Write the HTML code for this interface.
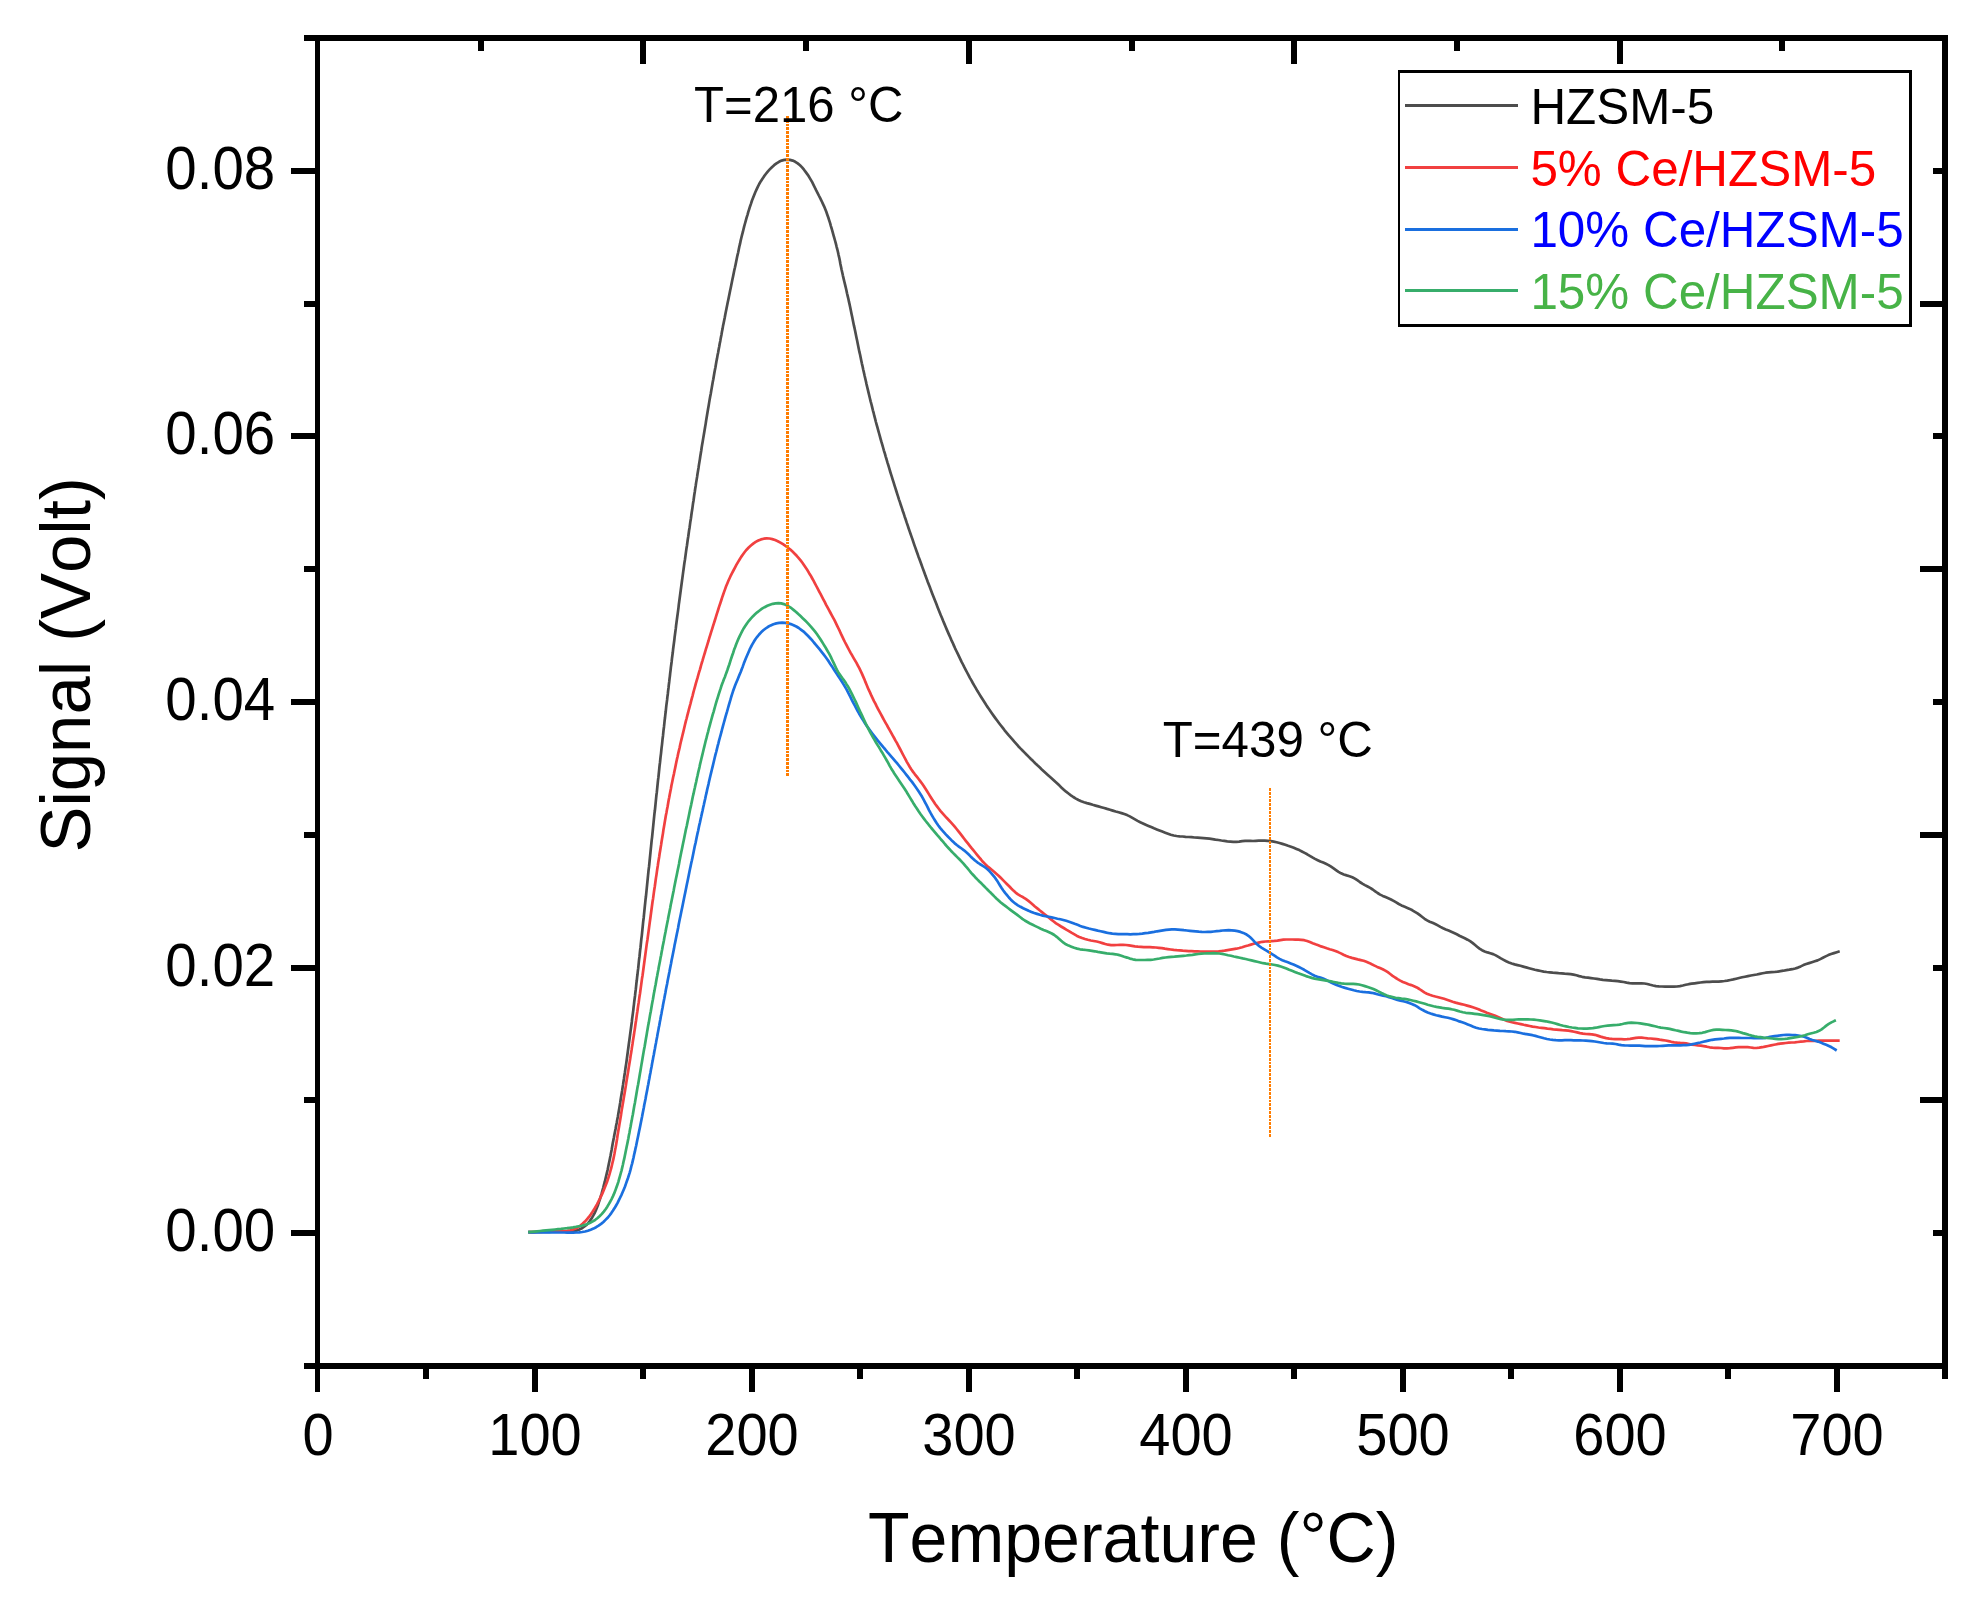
<!DOCTYPE html>
<html lang="en"><head><meta charset="utf-8"><title>NH3-TPD profiles</title>
<style>
html,body{margin:0;padding:0;background:#fff;}
body{width:1987px;height:1614px;overflow:hidden;font-family:"Liberation Sans",Arial,sans-serif;}
svg{display:block;}
</style></head><body>
<svg width="1987" height="1614" viewBox="0 0 1987 1614">
<rect width="1987" height="1614" fill="#fff"/>
<polyline points="528.2,1232.2 531.2,1232.2 534.2,1232.1 537.2,1232.0 540.2,1232.0 543.2,1231.9 546.2,1231.8 549.2,1231.8 552.2,1231.7 555.2,1231.7 558.2,1231.7 561.3,1231.7 564.3,1231.7 567.3,1231.6 570.3,1231.5 573.2,1231.2 576.1,1230.6 578.8,1229.8 581.4,1228.6 583.8,1227.0 586.1,1225.2 588.1,1223.1 590.0,1220.8 591.7,1218.3 593.2,1215.7 594.6,1213.1 595.9,1210.3 597.0,1207.6 598.1,1204.7 599.0,1201.9 600.0,1199.0 600.8,1196.2 601.7,1193.3 602.5,1190.4 603.3,1187.5 604.0,1184.6 604.8,1181.7 605.5,1178.8 606.2,1175.8 606.9,1172.9 607.6,1170.0 608.2,1167.1 608.8,1164.1 609.4,1161.2 610.0,1158.3 610.6,1155.3 611.1,1152.4 611.7,1149.4 612.2,1146.5 612.7,1143.5 613.3,1140.6 613.9,1137.6 614.4,1134.7 615.0,1131.7 615.6,1128.8 616.1,1125.8 616.7,1122.9 617.2,1119.9 617.8,1117.0 618.3,1114.0 618.8,1111.1 619.3,1108.1 619.8,1105.1 620.3,1102.2 620.7,1099.2 621.2,1096.3 621.7,1093.3 622.2,1090.3 622.6,1087.4 623.1,1084.4 623.5,1081.4 624.0,1078.5 624.4,1075.5 624.9,1072.5 625.3,1069.6 625.7,1066.6 626.2,1063.6 626.6,1060.7 627.0,1057.7 627.4,1054.7 627.8,1051.7 628.2,1048.8 628.6,1045.8 629.0,1042.8 629.4,1039.9 629.8,1036.9 630.2,1033.9 630.6,1030.9 631.0,1028.0 631.4,1025.0 631.8,1022.0 632.1,1019.0 632.5,1016.1 632.9,1013.1 633.3,1010.1 633.6,1007.1 634.0,1004.1 634.3,1001.2 634.7,998.2 635.1,995.2 635.4,992.2 635.8,989.2 636.1,986.3 636.4,983.3 636.8,980.3 637.1,977.3 637.5,974.3 637.8,971.4 638.2,968.4 638.5,965.4 638.8,962.4 639.1,959.4 639.5,956.5 639.8,953.5 640.1,950.5 640.5,947.5 640.8,944.5 641.1,941.5 641.4,938.6 641.8,935.6 642.1,932.6 642.4,929.6 642.7,926.6 643.0,923.6 643.3,920.7 643.7,917.7 644.0,914.7 644.3,911.7 644.6,908.7 644.9,905.7 645.2,902.8 645.5,899.8 645.9,896.8 646.2,893.8 646.5,890.8 646.8,887.8 647.1,884.9 647.4,881.9 647.7,878.9 648.0,875.9 648.3,872.9 648.6,869.9 649.0,866.9 649.3,864.0 649.6,861.0 649.9,858.0 650.2,855.0 650.5,852.0 650.8,849.0 651.1,846.1 651.4,843.1 651.7,840.1 652.1,837.1 652.4,834.1 652.7,831.1 653.0,828.2 653.3,825.2 653.6,822.2 653.9,819.2 654.2,816.2 654.5,813.2 654.9,810.3 655.2,807.3 655.5,804.3 655.8,801.3 656.1,798.3 656.4,795.3 656.8,792.4 657.1,789.4 657.4,786.4 657.7,783.4 658.0,780.4 658.4,777.4 658.7,774.5 659.0,771.5 659.3,768.5 659.6,765.5 660.0,762.5 660.3,759.5 660.6,756.6 661.0,753.6 661.3,750.6 661.6,747.6 662.0,744.6 662.3,741.7 662.6,738.7 663.0,735.7 663.3,732.7 663.6,729.7 664.0,726.7 664.3,723.8 664.6,720.8 665.0,717.8 665.3,714.8 665.7,711.8 666.0,708.9 666.3,705.9 666.7,702.9 667.1,699.9 667.4,696.9 667.8,694.0 668.1,691.0 668.5,688.0 668.8,685.0 669.2,682.0 669.5,679.1 669.9,676.1 670.2,673.1 670.6,670.1 670.9,667.1 671.3,664.2 671.7,661.2 672.0,658.2 672.4,655.2 672.8,652.3 673.1,649.3 673.5,646.3 673.9,643.3 674.3,640.3 674.6,637.4 675.0,634.4 675.4,631.4 675.8,628.4 676.1,625.5 676.5,622.5 676.9,619.5 677.3,616.5 677.7,613.6 678.1,610.6 678.5,607.6 678.8,604.6 679.2,601.7 679.6,598.7 680.0,595.7 680.4,592.7 680.8,589.8 681.2,586.8 681.6,583.8 682.0,580.8 682.4,577.9 682.8,574.9 683.2,571.9 683.6,569.0 684.0,566.0 684.4,563.0 684.9,560.0 685.3,557.1 685.7,554.1 686.1,551.1 686.5,548.2 687.0,545.2 687.4,542.2 687.8,539.2 688.3,536.3 688.7,533.3 689.1,530.3 689.6,527.4 690.0,524.4 690.4,521.4 690.9,518.5 691.3,515.5 691.7,512.5 692.2,509.6 692.6,506.6 693.0,503.6 693.5,500.7 693.9,497.7 694.3,494.7 694.8,491.8 695.2,488.8 695.7,485.8 696.1,482.9 696.6,479.9 697.1,476.9 697.5,474.0 698.0,471.0 698.5,468.0 698.9,465.1 699.4,462.1 699.9,459.1 700.3,456.2 700.8,453.2 701.3,450.3 701.7,447.3 702.2,444.3 702.7,441.4 703.2,438.4 703.7,435.5 704.2,432.5 704.7,429.5 705.2,426.6 705.7,423.6 706.1,420.7 706.6,417.7 707.1,414.7 707.6,411.8 708.1,408.8 708.6,405.9 709.1,402.9 709.6,399.9 710.1,397.0 710.7,394.0 711.2,391.1 711.7,388.1 712.2,385.2 712.7,382.2 713.3,379.3 713.8,376.3 714.3,373.3 714.8,370.4 715.4,367.4 715.9,364.5 716.4,361.5 717.0,358.6 717.5,355.6 718.1,352.7 718.6,349.7 719.2,346.8 719.7,343.8 720.3,340.9 720.8,337.9 721.4,335.0 721.9,332.0 722.5,329.1 723.0,326.1 723.6,323.2 724.2,320.3 724.8,317.3 725.3,314.4 725.9,311.4 726.5,308.5 727.1,305.5 727.7,302.6 728.3,299.7 728.9,296.7 729.5,293.8 730.1,290.8 730.7,287.9 731.3,285.0 731.9,282.0 732.5,279.1 733.1,276.2 733.7,273.2 734.3,270.3 735.0,267.3 735.6,264.4 736.2,261.5 736.8,258.5 737.4,255.6 738.1,252.7 738.7,249.7 739.3,246.8 740.0,243.9 740.6,240.9 741.3,238.0 742.0,235.1 742.8,232.2 743.5,229.3 744.2,226.4 745.0,223.5 745.8,220.6 746.6,217.7 747.5,214.8 748.3,211.9 749.2,209.1 750.1,206.2 751.1,203.4 752.0,200.5 753.1,197.7 754.2,194.9 755.3,192.2 756.6,189.4 757.9,186.7 759.2,184.0 760.7,181.4 762.3,178.9 764.0,176.4 765.8,174.0 767.7,171.6 769.7,169.4 771.9,167.2 774.1,165.2 776.5,163.4 779.0,161.8 781.6,160.6 784.4,159.9 787.1,159.6 789.9,159.9 792.7,160.6 795.3,161.8 797.7,163.4 800.0,165.3 802.1,167.4 804.0,169.7 805.8,172.1 807.6,174.6 809.2,177.1 810.7,179.6 812.2,182.2 813.5,184.8 814.8,187.5 816.1,190.2 817.5,192.8 818.8,195.5 820.2,198.2 821.5,200.8 822.8,203.6 824.1,206.3 825.2,209.1 826.3,211.8 827.3,214.7 828.3,217.5 829.2,220.4 830.1,223.2 830.9,226.1 831.8,229.0 832.6,231.9 833.4,234.8 834.2,237.6 835.0,240.5 835.8,243.4 836.5,246.3 837.3,249.3 838.0,252.2 838.6,255.1 839.3,258.0 839.9,261.0 840.4,263.9 841.0,266.8 841.6,269.8 842.3,272.7 842.9,275.6 843.6,278.6 844.3,281.5 845.0,284.4 845.7,287.3 846.4,290.2 847.0,293.2 847.7,296.1 848.4,299.0 849.0,301.9 849.7,304.9 850.3,307.8 850.9,310.7 851.5,313.7 852.1,316.6 852.7,319.6 853.3,322.5 853.9,325.4 854.6,328.4 855.2,331.3 855.8,334.3 856.4,337.2 857.0,340.1 857.6,343.1 858.2,346.0 858.8,348.9 859.4,351.9 860.1,354.8 860.7,357.7 861.3,360.7 861.9,363.6 862.6,366.5 863.2,369.5 863.9,372.4 864.5,375.3 865.2,378.3 865.9,381.2 866.5,384.1 867.2,387.0 867.9,389.9 868.6,392.9 869.3,395.8 870.0,398.7 870.7,401.6 871.5,404.5 872.2,407.4 872.9,410.3 873.7,413.2 874.4,416.2 875.2,419.1 875.9,422.0 876.7,424.9 877.5,427.7 878.3,430.6 879.1,433.5 879.9,436.4 880.7,439.3 881.5,442.2 882.4,445.1 883.2,448.0 884.0,450.8 884.9,453.7 885.7,456.6 886.6,459.5 887.4,462.3 888.3,465.2 889.2,468.1 890.0,471.0 890.9,473.8 891.8,476.7 892.7,479.6 893.6,482.4 894.5,485.3 895.4,488.2 896.3,491.0 897.2,493.9 898.1,496.7 899.0,499.6 900.0,502.4 900.9,505.3 901.9,508.1 902.8,511.0 903.8,513.8 904.7,516.7 905.7,519.5 906.6,522.4 907.6,525.2 908.5,528.0 909.5,530.9 910.5,533.7 911.5,536.6 912.5,539.4 913.4,542.2 914.4,545.1 915.4,547.9 916.4,550.7 917.4,553.5 918.4,556.4 919.5,559.2 920.5,562.0 921.5,564.8 922.5,567.6 923.6,570.5 924.6,573.3 925.6,576.1 926.7,578.9 927.7,581.7 928.8,584.5 929.9,587.3 930.9,590.1 932.0,592.9 933.1,595.7 934.2,598.5 935.3,601.3 936.4,604.1 937.5,606.9 938.6,609.7 939.7,612.5 940.8,615.3 942.0,618.0 943.1,620.8 944.3,623.6 945.4,626.3 946.6,629.1 947.8,631.9 949.0,634.6 950.2,637.3 951.4,640.1 952.7,642.8 953.9,645.6 955.1,648.3 956.4,651.0 957.7,653.7 959.0,656.4 960.3,659.1 961.6,661.8 963.0,664.5 964.3,667.2 965.7,669.8 967.1,672.5 968.5,675.1 969.9,677.8 971.4,680.4 972.8,683.0 974.3,685.6 975.8,688.2 977.3,690.8 978.9,693.4 980.5,695.9 982.1,698.5 983.7,701.0 985.3,703.5 986.9,706.1 988.6,708.5 990.3,711.0 992.0,713.5 993.7,715.9 995.5,718.4 997.3,720.8 999.1,723.2 1000.9,725.5 1002.8,727.9 1004.6,730.3 1006.5,732.6 1008.4,734.9 1010.4,737.2 1012.4,739.4 1014.3,741.7 1016.3,743.9 1018.3,746.2 1020.4,748.4 1022.5,750.5 1024.6,752.6 1026.7,754.8 1028.8,756.9 1030.9,759.0 1033.1,761.1 1035.2,763.2 1037.4,765.3 1039.6,767.3 1041.8,769.4 1044.0,771.4 1046.2,773.4 1048.4,775.4 1050.7,777.4 1052.9,779.4 1055.1,781.5 1057.3,783.5 1059.5,785.6 1061.6,787.7 1063.8,789.7 1066.1,791.7 1068.5,793.5 1070.9,795.3 1073.3,797.0 1075.9,798.6 1078.5,800.0 1081.2,801.2 1084.0,802.2 1086.9,803.1 1089.8,803.9 1092.7,804.8 1095.5,805.6 1098.4,806.4 1101.3,807.2 1104.2,808.0 1107.1,808.9 1110.0,809.7 1112.8,810.6 1115.7,811.5 1118.6,812.3 1121.5,813.1 1124.3,814.0 1127.1,815.1 1129.8,816.4 1132.4,817.9 1135.0,819.4 1137.6,820.9 1140.3,822.3 1143.0,823.5 1145.7,824.7 1148.5,825.9 1151.2,827.1 1154.0,828.3 1156.8,829.4 1159.5,830.5 1162.3,831.6 1165.2,832.7 1168.0,833.7 1170.8,834.7 1173.7,835.5 1176.6,836.0 1179.6,836.3 1182.6,836.5 1185.6,836.8 1188.6,837.0 1191.6,837.2 1194.5,837.5 1197.5,837.7 1200.5,837.9 1203.5,838.1 1206.5,838.4 1209.5,838.7 1212.5,839.1 1215.4,839.6 1218.4,840.0 1221.4,840.5 1224.3,840.9 1227.3,841.3 1230.3,841.6 1233.3,841.9 1236.3,841.9 1239.2,841.6 1242.2,841.1 1245.1,840.8 1247.8,840.8 1250.4,840.9 1253.0,841.0 1255.8,840.8 1258.8,840.6 1261.8,840.5 1264.8,840.7 1267.8,840.9 1270.8,841.1 1273.7,841.6 1276.6,842.2 1279.5,843.0 1282.4,843.9 1285.3,844.8 1288.1,845.8 1291.0,846.7 1293.8,847.7 1296.5,848.9 1299.3,850.1 1301.9,851.5 1304.6,852.9 1307.2,854.3 1309.8,855.8 1312.4,857.4 1315.0,858.9 1317.7,860.2 1320.4,861.5 1323.2,862.6 1325.9,863.8 1328.6,865.1 1331.1,866.7 1333.6,868.4 1336.0,870.1 1338.5,871.8 1341.1,873.3 1343.8,874.5 1346.7,875.4 1349.5,876.2 1352.3,877.2 1354.9,878.6 1357.3,880.2 1359.8,882.0 1362.3,883.6 1364.9,885.1 1367.6,886.5 1370.2,887.9 1372.7,889.5 1375.2,891.3 1377.6,893.0 1380.1,894.6 1382.8,895.9 1385.5,897.1 1388.3,898.3 1391.0,899.5 1393.6,900.9 1396.2,902.4 1398.8,904.0 1401.5,905.4 1404.2,906.6 1406.9,907.7 1409.7,908.9 1412.4,910.3 1414.9,911.8 1417.5,913.4 1419.9,915.2 1422.3,917.0 1424.6,918.8 1427.1,920.4 1429.7,921.7 1432.5,922.8 1435.2,924.0 1437.8,925.4 1440.4,926.9 1443.1,928.3 1445.8,929.5 1448.6,930.6 1451.3,931.8 1454.1,933.0 1456.8,934.3 1459.4,935.7 1462.1,937.0 1464.8,938.3 1467.5,939.7 1470.1,941.2 1472.5,942.9 1474.8,944.8 1477.1,946.7 1479.5,948.6 1482.0,950.2 1484.7,951.4 1487.5,952.4 1490.3,953.2 1493.1,954.1 1495.8,955.4 1498.4,956.9 1500.9,958.4 1503.6,959.9 1506.2,961.3 1508.9,962.5 1511.7,963.5 1514.6,964.4 1517.5,965.1 1520.4,965.8 1523.3,966.6 1526.2,967.4 1529.1,968.2 1532.0,969.0 1534.9,969.8 1537.8,970.4 1540.8,971.0 1543.7,971.6 1546.7,972.0 1549.7,972.3 1552.7,972.6 1555.6,972.8 1558.6,973.1 1561.6,973.3 1564.6,973.6 1567.6,973.8 1570.6,974.1 1573.5,974.6 1576.4,975.3 1579.2,976.1 1582.1,976.8 1585.1,977.3 1588.0,977.7 1591.0,978.1 1594.0,978.5 1596.9,978.9 1599.9,979.4 1602.9,979.8 1605.9,980.1 1608.8,980.4 1611.8,980.7 1614.8,980.9 1617.8,981.2 1620.8,981.6 1623.7,982.0 1626.6,982.6 1629.5,983.1 1632.5,983.3 1635.5,983.4 1638.5,983.3 1641.5,983.3 1644.4,983.5 1647.3,984.0 1650.2,984.8 1653.1,985.5 1656.0,986.1 1659.0,986.4 1662.0,986.5 1665.0,986.6 1668.0,986.6 1671.0,986.6 1674.0,986.6 1677.0,986.5 1679.9,986.1 1682.8,985.5 1685.7,984.8 1688.7,984.2 1691.6,983.7 1694.6,983.3 1697.6,982.9 1700.5,982.5 1703.5,982.1 1706.5,981.9 1709.5,981.8 1712.5,981.7 1715.5,981.7 1718.5,981.6 1721.5,981.3 1724.5,981.0 1727.4,980.6 1730.4,980.0 1733.3,979.4 1736.2,978.7 1739.1,978.0 1742.1,977.3 1745.0,976.7 1747.9,976.1 1750.9,975.5 1753.8,975.0 1756.8,974.5 1759.7,973.9 1762.6,973.3 1765.6,972.7 1768.5,972.4 1771.5,972.2 1774.5,972.0 1777.5,971.7 1780.5,971.2 1783.4,970.7 1786.4,970.1 1789.3,969.7 1792.3,969.2 1795.2,968.5 1798.0,967.6 1800.7,966.4 1803.4,965.1 1806.2,964.0 1809.1,963.1 1811.9,962.2 1814.8,961.3 1817.6,960.4 1820.3,959.1 1822.9,957.8 1825.6,956.4 1828.3,955.1 1831.1,954.0 1833.9,953.1 1836.8,952.2 1839.7,951.3" fill="none" stroke="#4D4D4D" stroke-width="2.7" stroke-linejoin="round" stroke-linecap="butt"/>
<polyline points="528.2,1232.2 531.2,1232.1 534.2,1232.0 537.2,1231.9 540.2,1231.8 543.2,1231.7 546.2,1231.6 549.2,1231.5 552.2,1231.4 555.2,1231.4 558.3,1231.3 561.3,1231.2 564.3,1231.1 567.2,1230.8 570.1,1230.3 572.9,1229.6 575.6,1228.5 578.1,1227.2 580.5,1225.5 582.8,1223.6 584.9,1221.6 586.9,1219.3 588.9,1217.0 590.7,1214.6 592.4,1212.1 594.0,1209.6 595.5,1207.0 597.0,1204.4 598.4,1201.7 599.7,1199.0 601.0,1196.3 602.3,1193.6 603.5,1190.8 604.6,1188.1 605.7,1185.3 606.8,1182.5 607.8,1179.6 608.7,1176.8 609.6,1173.9 610.4,1171.0 611.2,1168.2 611.9,1165.2 612.6,1162.3 613.3,1159.4 613.9,1156.5 614.5,1153.5 615.0,1150.6 615.6,1147.6 616.1,1144.7 616.6,1141.7 617.1,1138.7 617.5,1135.8 618.0,1132.8 618.5,1129.8 619.0,1126.9 619.5,1123.9 620.0,1121.0 620.5,1118.0 621.0,1115.0 621.4,1112.1 621.9,1109.1 622.4,1106.2 622.9,1103.2 623.4,1100.2 623.9,1097.3 624.4,1094.3 624.9,1091.4 625.4,1088.4 625.9,1085.4 626.3,1082.5 626.8,1079.5 627.3,1076.6 627.8,1073.6 628.3,1070.6 628.7,1067.7 629.2,1064.7 629.7,1061.7 630.2,1058.8 630.6,1055.8 631.1,1052.9 631.6,1049.9 632.0,1046.9 632.5,1044.0 632.9,1041.0 633.4,1038.0 633.9,1035.1 634.3,1032.1 634.8,1029.1 635.2,1026.2 635.6,1023.2 636.1,1020.2 636.5,1017.2 636.9,1014.3 637.4,1011.3 637.8,1008.3 638.2,1005.4 638.7,1002.4 639.1,999.4 639.5,996.5 640.0,993.5 640.4,990.5 640.8,987.6 641.2,984.6 641.6,981.6 642.0,978.6 642.5,975.7 642.9,972.7 643.3,969.7 643.7,966.7 644.1,963.8 644.5,960.8 644.9,957.8 645.3,954.9 645.7,951.9 646.1,948.9 646.5,945.9 646.9,943.0 647.4,940.0 647.8,937.0 648.2,934.0 648.6,931.1 649.0,928.1 649.4,925.1 649.8,922.1 650.2,919.2 650.6,916.2 651.0,913.2 651.4,910.3 651.8,907.3 652.2,904.3 652.6,901.3 653.1,898.4 653.5,895.4 653.9,892.4 654.3,889.5 654.8,886.5 655.2,883.5 655.6,880.5 656.0,877.6 656.5,874.6 656.9,871.6 657.3,868.7 657.8,865.7 658.2,862.7 658.7,859.8 659.2,856.8 659.6,853.8 660.1,850.9 660.6,847.9 661.1,844.9 661.5,842.0 662.0,839.0 662.5,836.1 663.0,833.1 663.4,830.1 663.9,827.2 664.4,824.2 664.9,821.3 665.4,818.3 665.9,815.3 666.5,812.4 667.0,809.4 667.6,806.5 668.1,803.5 668.6,800.6 669.2,797.6 669.7,794.7 670.3,791.7 670.9,788.8 671.4,785.8 672.0,782.9 672.6,780.0 673.2,777.0 673.9,774.1 674.5,771.1 675.1,768.2 675.7,765.3 676.3,762.3 676.9,759.4 677.6,756.5 678.2,753.5 678.9,750.6 679.6,747.7 680.2,744.8 680.9,741.8 681.6,738.9 682.3,736.0 683.0,733.1 683.7,730.2 684.4,727.2 685.1,724.3 685.8,721.4 686.6,718.5 687.3,715.6 688.1,712.7 688.8,709.8 689.6,706.9 690.4,704.0 691.1,701.1 691.9,698.2 692.7,695.3 693.4,692.4 694.2,689.5 695.0,686.6 695.8,683.7 696.6,680.8 697.5,677.9 698.3,675.0 699.1,672.2 700.0,669.3 700.8,666.4 701.6,663.5 702.5,660.6 703.3,657.8 704.2,654.9 705.1,652.0 705.9,649.2 706.8,646.3 707.7,643.4 708.6,640.5 709.4,637.7 710.3,634.8 711.2,631.9 712.1,629.1 713.0,626.2 713.9,623.3 714.8,620.5 715.7,617.6 716.6,614.7 717.5,611.9 718.4,609.0 719.3,606.2 720.3,603.3 721.2,600.5 722.1,597.6 723.1,594.8 724.1,591.9 725.1,589.1 726.1,586.3 727.3,583.5 728.4,580.8 729.7,578.0 730.9,575.3 732.3,572.6 733.7,570.0 735.1,567.3 736.5,564.7 738.0,562.1 739.6,559.5 741.2,556.9 742.9,554.5 744.7,552.0 746.6,549.7 748.7,547.5 750.9,545.5 753.2,543.6 755.7,541.9 758.3,540.5 761.0,539.4 763.8,538.7 766.6,538.4 769.5,538.5 772.3,539.1 775.1,540.0 777.8,541.2 780.4,542.6 783.0,544.2 785.5,545.9 788.0,547.7 790.3,549.6 792.5,551.6 794.7,553.7 796.7,555.8 798.7,558.1 800.6,560.4 802.4,562.8 804.1,565.3 805.8,567.8 807.5,570.3 809.0,572.9 810.6,575.4 812.0,578.0 813.5,580.7 814.9,583.3 816.3,586.0 817.7,588.6 819.1,591.3 820.5,593.9 821.9,596.6 823.3,599.3 824.7,601.9 826.0,604.6 827.4,607.2 828.9,609.9 830.3,612.5 831.7,615.1 833.2,617.8 834.6,620.4 835.9,623.1 837.2,625.8 838.5,628.5 839.8,631.2 841.0,633.9 842.3,636.6 843.6,639.3 844.9,642.0 846.3,644.7 847.7,647.3 849.1,650.0 850.5,652.6 852.0,655.2 853.5,657.8 855.0,660.4 856.5,662.9 857.9,665.6 859.3,668.2 860.6,670.9 861.9,673.6 863.1,676.4 864.3,679.1 865.4,681.9 866.6,684.7 867.7,687.4 868.9,690.2 870.2,692.9 871.4,695.7 872.7,698.4 874.0,701.1 875.4,703.7 876.7,706.4 878.1,709.1 879.5,711.7 881.0,714.4 882.4,717.0 883.8,719.6 885.3,722.3 886.8,724.9 888.2,727.5 889.7,730.1 891.1,732.7 892.6,735.4 894.1,738.0 895.5,740.6 897.0,743.2 898.4,745.9 899.8,748.5 901.2,751.2 902.6,753.8 904.0,756.5 905.4,759.2 906.8,761.8 908.3,764.4 909.8,767.0 911.4,769.5 913.1,771.9 914.9,774.3 916.8,776.7 918.6,779.0 920.4,781.4 922.2,783.8 923.9,786.3 925.5,788.8 927.1,791.3 928.7,793.9 930.3,796.4 931.9,799.0 933.6,801.5 935.2,804.0 937.0,806.4 938.8,808.8 940.6,811.1 942.6,813.4 944.6,815.6 946.6,817.8 948.7,820.0 950.7,822.2 952.7,824.4 954.7,826.7 956.6,829.0 958.5,831.4 960.3,833.7 962.2,836.1 964.0,838.5 965.8,840.8 967.7,843.2 969.6,845.6 971.4,847.9 973.3,850.2 975.2,852.5 977.1,854.9 979.0,857.2 981.0,859.5 982.9,861.8 985.0,863.9 987.1,866.0 989.4,867.9 991.7,869.8 994.1,871.8 996.3,873.7 998.6,875.7 1000.7,877.8 1002.8,879.9 1005.0,882.1 1007.1,884.2 1009.2,886.3 1011.3,888.5 1013.4,890.6 1015.6,892.6 1018.0,894.4 1020.5,895.9 1023.2,897.3 1025.7,898.9 1028.1,900.6 1030.4,902.5 1032.7,904.5 1034.9,906.5 1037.3,908.4 1039.6,910.3 1041.9,912.1 1044.3,914.0 1046.6,915.9 1049.0,917.8 1051.3,919.7 1053.7,921.5 1056.1,923.3 1058.6,924.9 1061.1,926.5 1063.7,928.0 1066.3,929.6 1068.9,931.1 1071.4,932.7 1074.0,934.2 1076.6,935.7 1079.3,936.9 1082.1,938.0 1085.0,939.0 1087.8,939.8 1090.8,940.5 1093.7,941.0 1096.7,941.5 1099.6,942.2 1102.4,943.1 1105.3,944.0 1108.1,944.7 1111.1,945.1 1114.0,945.1 1117.0,945.0 1120.0,944.9 1123.0,944.8 1126.0,945.0 1129.0,945.3 1132.0,945.8 1134.9,946.3 1137.9,946.7 1140.9,946.9 1143.9,947.1 1146.9,947.1 1149.9,947.2 1152.9,947.3 1155.9,947.5 1158.8,947.8 1161.8,948.2 1164.8,948.7 1167.7,949.1 1170.7,949.5 1173.7,949.9 1176.7,950.2 1179.7,950.4 1182.7,950.7 1185.6,950.9 1188.6,951.1 1191.6,951.2 1194.6,951.3 1197.6,951.4 1200.6,951.5 1203.6,951.6 1206.6,951.6 1209.6,951.6 1212.6,951.5 1215.6,951.5 1218.6,951.3 1221.6,951.0 1224.6,950.7 1227.6,950.2 1230.5,949.7 1233.5,949.2 1236.4,948.7 1239.3,948.0 1242.2,947.2 1245.1,946.3 1248.0,945.5 1250.9,944.6 1253.7,943.8 1256.7,943.1 1259.6,942.4 1262.5,941.8 1265.5,941.5 1268.5,941.3 1271.5,941.1 1274.4,940.9 1277.4,940.6 1280.4,940.1 1283.4,939.7 1286.3,939.5 1289.3,939.5 1292.3,939.5 1295.3,939.6 1298.3,939.6 1301.3,939.8 1304.2,940.2 1307.1,941.0 1309.9,942.0 1312.7,943.2 1315.5,944.3 1318.3,945.3 1321.1,946.4 1323.9,947.3 1326.8,948.3 1329.7,949.2 1332.5,950.0 1335.4,951.0 1338.1,952.1 1340.9,953.4 1343.5,954.7 1346.3,956.0 1349.1,957.0 1351.9,957.9 1354.8,958.6 1357.7,959.4 1360.7,960.1 1363.6,960.8 1366.4,961.8 1369.1,962.9 1371.8,964.3 1374.5,965.6 1377.2,966.9 1380.0,968.0 1382.7,969.2 1385.3,970.6 1387.8,972.2 1390.2,974.0 1392.6,975.8 1395.1,977.5 1397.6,979.1 1400.2,980.6 1402.9,982.0 1405.7,983.1 1408.5,984.2 1411.3,985.1 1414.1,986.2 1416.8,987.4 1419.3,989.0 1421.8,990.7 1424.3,992.4 1426.9,993.8 1429.6,994.8 1432.5,995.7 1435.4,996.5 1438.3,997.2 1441.2,998.0 1444.1,998.8 1446.9,999.7 1449.8,1000.7 1452.6,1001.7 1455.5,1002.6 1458.4,1003.4 1461.3,1004.1 1464.2,1004.8 1467.1,1005.6 1470.0,1006.4 1472.8,1007.3 1475.7,1008.3 1478.5,1009.3 1481.2,1010.5 1484.0,1011.6 1486.8,1012.8 1489.6,1013.8 1492.4,1014.8 1495.3,1015.8 1498.0,1016.9 1500.8,1018.2 1503.5,1019.4 1506.2,1020.6 1509.1,1021.5 1512.0,1022.3 1514.9,1022.9 1517.8,1023.5 1520.8,1024.1 1523.7,1024.8 1526.6,1025.4 1529.6,1026.0 1532.5,1026.6 1535.5,1027.0 1538.5,1027.5 1541.4,1027.8 1544.4,1028.2 1547.4,1028.6 1550.4,1028.9 1553.3,1029.3 1556.3,1029.6 1559.3,1029.9 1562.3,1030.2 1565.3,1030.4 1568.3,1030.7 1571.2,1031.1 1574.2,1031.7 1577.1,1032.4 1580.0,1033.1 1583.0,1033.6 1585.9,1034.0 1588.9,1034.2 1591.9,1034.4 1594.8,1034.8 1597.6,1035.6 1600.5,1036.6 1603.3,1037.4 1606.2,1038.1 1609.2,1038.6 1612.1,1038.9 1615.1,1039.1 1618.1,1039.2 1621.2,1039.2 1624.2,1039.3 1627.1,1039.2 1630.1,1038.9 1633.0,1038.4 1635.9,1037.9 1638.8,1037.6 1641.7,1037.7 1644.7,1038.0 1647.7,1038.3 1650.7,1038.5 1653.7,1038.8 1656.6,1039.2 1659.6,1039.7 1662.6,1040.1 1665.5,1040.5 1668.5,1041.1 1671.3,1041.8 1674.2,1042.3 1677.2,1042.7 1680.2,1042.9 1683.1,1043.0 1686.1,1043.4 1689.0,1044.0 1691.9,1044.6 1694.9,1045.0 1697.8,1045.4 1700.8,1045.7 1703.7,1046.2 1706.7,1046.7 1709.6,1047.3 1712.4,1047.7 1715.2,1047.9 1718.1,1047.9 1721.0,1048.0 1723.9,1048.3 1726.9,1048.4 1729.8,1048.2 1732.8,1047.8 1735.7,1047.4 1738.7,1047.2 1741.7,1047.1 1744.7,1047.2 1747.7,1047.2 1750.6,1047.5 1753.5,1047.8 1756.4,1048.0 1759.3,1047.7 1762.2,1047.2 1765.1,1046.6 1768.1,1046.0 1771.0,1045.4 1774.0,1044.8 1776.9,1044.2 1779.9,1043.7 1782.8,1043.3 1785.8,1043.0 1788.8,1042.7 1791.8,1042.5 1794.8,1042.3 1797.8,1042.0 1800.8,1041.7 1803.7,1041.4 1806.7,1041.0 1809.7,1040.9 1812.7,1040.8 1815.7,1040.8 1818.7,1040.7 1821.7,1040.7 1824.7,1040.7 1827.7,1040.7 1830.7,1040.6 1833.7,1040.6 1836.7,1040.6 1839.7,1040.6" fill="none" stroke="#F14040" stroke-width="2.7" stroke-linejoin="round" stroke-linecap="butt"/>
<polyline points="528.2,1232.2 531.2,1232.3 534.2,1232.3 537.2,1232.3 540.2,1232.4 543.2,1232.4 546.2,1232.4 549.2,1232.4 552.2,1232.5 555.2,1232.5 558.2,1232.5 561.2,1232.5 564.2,1232.5 567.2,1232.6 570.2,1232.6 573.2,1232.6 576.2,1232.5 579.2,1232.4 582.2,1232.0 585.1,1231.5 587.9,1230.7 590.7,1229.7 593.5,1228.6 596.1,1227.2 598.6,1225.6 601.1,1223.9 603.4,1222.0 605.5,1219.9 607.6,1217.8 609.5,1215.5 611.3,1213.1 613.0,1210.6 614.6,1208.1 616.1,1205.5 617.6,1202.9 618.9,1200.2 620.2,1197.5 621.5,1194.8 622.7,1192.0 623.9,1189.2 625.0,1186.5 626.0,1183.6 627.0,1180.8 628.0,1178.0 628.9,1175.1 629.8,1172.3 630.6,1169.4 631.3,1166.5 632.1,1163.6 632.8,1160.6 633.5,1157.7 634.1,1154.8 634.8,1151.9 635.4,1148.9 636.1,1146.0 636.7,1143.1 637.3,1140.1 637.9,1137.2 638.5,1134.2 639.1,1131.3 639.7,1128.4 640.3,1125.4 640.9,1122.5 641.5,1119.5 642.1,1116.6 642.6,1113.7 643.2,1110.7 643.8,1107.8 644.3,1104.8 644.9,1101.9 645.5,1098.9 646.0,1096.0 646.6,1093.0 647.2,1090.1 647.7,1087.1 648.3,1084.2 648.8,1081.2 649.4,1078.3 649.9,1075.3 650.5,1072.4 651.0,1069.4 651.6,1066.5 652.1,1063.5 652.7,1060.6 653.2,1057.6 653.8,1054.7 654.3,1051.7 654.9,1048.8 655.4,1045.8 656.0,1042.9 656.5,1039.9 657.1,1037.0 657.6,1034.0 658.2,1031.1 658.7,1028.1 659.3,1025.2 659.8,1022.2 660.4,1019.3 660.9,1016.3 661.5,1013.4 662.0,1010.4 662.6,1007.5 663.1,1004.5 663.7,1001.6 664.3,998.6 664.8,995.7 665.4,992.7 665.9,989.8 666.5,986.8 667.1,983.9 667.6,981.0 668.2,978.0 668.8,975.1 669.4,972.1 669.9,969.2 670.5,966.2 671.1,963.3 671.6,960.3 672.2,957.4 672.8,954.4 673.4,951.5 674.0,948.6 674.5,945.6 675.1,942.7 675.7,939.7 676.3,936.8 676.9,933.8 677.5,930.9 678.1,928.0 678.6,925.0 679.2,922.1 679.8,919.1 680.4,916.2 681.0,913.2 681.6,910.3 682.2,907.4 682.8,904.4 683.4,901.5 684.0,898.5 684.6,895.6 685.2,892.7 685.8,889.7 686.4,886.8 687.0,883.8 687.6,880.9 688.2,878.0 688.8,875.0 689.4,872.1 690.0,869.1 690.6,866.2 691.2,863.3 691.9,860.3 692.5,857.4 693.1,854.5 693.7,851.5 694.3,848.6 694.9,845.6 695.6,842.7 696.2,839.8 696.8,836.8 697.4,833.9 698.1,831.0 698.7,828.0 699.3,825.1 700.0,822.2 700.6,819.2 701.3,816.3 701.9,813.4 702.6,810.5 703.2,807.5 703.9,804.6 704.5,801.7 705.2,798.7 705.8,795.8 706.5,792.9 707.1,789.9 707.8,787.0 708.5,784.1 709.1,781.2 709.8,778.3 710.5,775.3 711.2,772.4 711.9,769.5 712.6,766.6 713.3,763.7 714.0,760.7 714.7,757.8 715.4,754.9 716.2,752.0 716.9,749.1 717.6,746.2 718.4,743.3 719.1,740.4 719.9,737.5 720.7,734.6 721.5,731.7 722.2,728.8 723.0,725.9 723.8,723.0 724.6,720.1 725.4,717.2 726.2,714.3 727.1,711.4 727.9,708.5 728.7,705.6 729.5,702.8 730.4,699.9 731.2,697.0 732.1,694.1 733.0,691.3 734.0,688.5 735.0,685.7 736.1,683.0 737.3,680.2 738.4,677.5 739.5,674.8 740.7,672.0 741.7,669.2 742.8,666.4 743.8,663.6 744.9,660.8 746.0,658.0 747.2,655.2 748.4,652.5 749.6,649.7 750.9,647.0 752.3,644.4 753.8,641.8 755.4,639.2 757.2,636.8 759.1,634.5 761.1,632.3 763.3,630.3 765.6,628.5 768.1,626.8 770.7,625.4 773.4,624.2 776.3,623.4 779.2,622.9 782.1,622.7 785.0,622.9 788.0,623.3 790.8,624.1 793.6,625.2 796.3,626.5 798.8,628.0 801.2,629.8 803.6,631.6 805.8,633.7 807.9,635.8 810.0,638.0 812.0,640.2 813.9,642.5 815.9,644.8 817.8,647.1 819.7,649.4 821.6,651.8 823.4,654.1 825.2,656.5 827.0,659.0 828.7,661.4 830.3,663.9 832.0,666.4 833.6,669.0 835.2,671.5 836.9,674.0 838.5,676.5 840.2,679.0 841.8,681.5 843.4,684.1 844.9,686.6 846.4,689.2 847.8,691.9 849.1,694.5 850.5,697.2 851.8,699.9 853.2,702.6 854.6,705.2 856.0,707.9 857.4,710.5 858.9,713.2 860.4,715.7 861.9,718.3 863.5,720.9 865.1,723.4 866.8,725.9 868.5,728.3 870.3,730.8 872.1,733.2 873.9,735.6 875.7,737.9 877.6,740.3 879.5,742.6 881.4,744.9 883.3,747.2 885.3,749.5 887.2,751.8 889.2,754.1 891.1,756.3 893.1,758.6 895.0,760.9 897.0,763.2 898.9,765.5 900.8,767.8 902.7,770.1 904.6,772.5 906.4,774.8 908.3,777.2 910.1,779.6 912.0,781.9 913.7,784.3 915.5,786.8 917.2,789.2 918.9,791.7 920.5,794.2 922.1,796.8 923.5,799.4 924.9,802.1 926.3,804.7 927.7,807.4 929.0,810.1 930.4,812.7 931.9,815.3 933.4,817.9 935.0,820.5 936.6,823.0 938.3,825.5 940.1,827.9 942.0,830.2 944.0,832.4 946.0,834.6 948.1,836.8 950.2,838.9 952.3,841.1 954.5,843.1 956.8,845.0 959.2,846.8 961.6,848.5 964.0,850.3 966.3,852.3 968.5,854.3 970.6,856.4 972.8,858.5 975.0,860.5 977.3,862.3 979.8,864.0 982.4,865.6 984.9,867.2 987.2,869.0 989.4,871.1 991.4,873.3 993.3,875.6 995.2,877.9 996.9,880.4 998.4,882.9 1000.0,885.5 1001.6,888.0 1003.3,890.5 1005.1,892.9 1007.0,895.2 1008.9,897.5 1010.9,899.7 1013.1,901.8 1015.5,903.7 1017.9,905.3 1020.5,906.8 1023.2,908.2 1025.9,909.5 1028.6,910.8 1031.4,911.9 1034.2,913.0 1037.0,913.9 1039.9,914.8 1042.8,915.6 1045.7,916.2 1048.7,916.8 1051.6,917.4 1054.5,918.0 1057.5,918.7 1060.4,919.3 1063.3,920.0 1066.2,920.8 1069.1,921.7 1071.9,922.7 1074.7,923.8 1077.5,924.8 1080.3,925.9 1083.1,926.9 1086.0,927.7 1088.9,928.5 1091.8,929.2 1094.7,929.9 1097.7,930.6 1100.6,931.2 1103.5,931.9 1106.5,932.6 1109.4,933.2 1112.3,933.7 1115.3,933.9 1118.3,934.1 1121.3,934.1 1124.3,934.2 1127.3,934.2 1130.3,934.3 1133.3,934.2 1136.3,934.1 1139.3,933.9 1142.3,933.6 1145.3,933.2 1148.2,932.9 1151.2,932.4 1154.1,931.9 1157.1,931.3 1160.0,930.8 1163.0,930.3 1166.0,929.9 1169.0,929.6 1171.9,929.4 1174.9,929.4 1177.9,929.6 1180.9,929.8 1183.9,930.2 1186.9,930.5 1189.9,930.8 1192.8,931.1 1195.8,931.4 1198.8,931.7 1201.8,931.9 1204.8,932.0 1207.8,931.9 1210.8,931.8 1213.8,931.5 1216.8,931.2 1219.7,930.9 1222.7,930.5 1225.7,930.3 1228.7,930.2 1231.7,930.3 1234.7,930.6 1237.6,931.1 1240.5,931.9 1243.3,932.9 1246.0,934.2 1248.4,935.8 1250.7,937.8 1252.8,939.9 1254.9,942.1 1257.0,944.2 1259.3,946.1 1261.8,947.8 1264.3,949.3 1266.9,950.9 1269.5,952.5 1272.0,954.1 1274.5,955.7 1277.0,957.4 1279.6,958.9 1282.3,960.2 1285.0,961.3 1287.9,962.3 1290.7,963.4 1293.5,964.5 1296.2,965.7 1298.9,967.0 1301.6,968.4 1304.2,969.8 1306.8,971.3 1309.4,972.9 1312.0,974.4 1314.6,975.7 1317.4,976.7 1320.3,977.6 1323.1,978.6 1325.8,979.7 1328.5,981.1 1331.1,982.5 1333.8,983.8 1336.6,985.0 1339.4,986.0 1342.2,987.0 1345.1,987.9 1348.0,988.7 1350.9,989.5 1353.8,990.3 1356.7,991.0 1359.6,991.5 1362.6,991.9 1365.6,992.2 1368.6,992.4 1371.5,992.8 1374.4,993.4 1377.3,994.2 1380.2,995.0 1383.1,995.7 1386.1,996.3 1388.9,997.1 1391.8,998.0 1394.6,999.0 1397.5,999.9 1400.4,1000.6 1403.3,1001.3 1406.2,1002.0 1409.1,1002.9 1411.9,1004.0 1414.6,1005.2 1417.2,1006.7 1419.7,1008.3 1422.3,1009.8 1425.0,1011.2 1427.7,1012.5 1430.5,1013.5 1433.3,1014.4 1436.2,1015.2 1439.1,1015.9 1442.1,1016.6 1445.0,1017.2 1447.9,1017.8 1450.8,1018.5 1453.7,1019.4 1456.5,1020.3 1459.4,1021.4 1462.2,1022.3 1465.0,1023.3 1467.8,1024.4 1470.6,1025.5 1473.3,1026.7 1476.1,1027.7 1479.0,1028.5 1482.0,1029.0 1484.9,1029.4 1487.9,1029.8 1490.9,1030.1 1493.9,1030.4 1496.9,1030.6 1499.9,1030.9 1502.9,1031.0 1505.9,1031.2 1508.9,1031.3 1511.9,1031.5 1514.8,1031.8 1517.7,1032.4 1520.7,1033.0 1523.6,1033.7 1526.6,1034.2 1529.5,1034.7 1532.5,1035.2 1535.4,1035.9 1538.3,1036.7 1541.2,1037.5 1544.1,1038.3 1547.0,1039.0 1549.9,1039.5 1552.9,1039.9 1555.9,1040.2 1558.9,1040.3 1561.9,1040.3 1564.9,1040.2 1567.9,1040.2 1570.9,1040.2 1573.9,1040.3 1576.9,1040.3 1579.9,1040.4 1582.9,1040.5 1585.9,1040.7 1588.9,1040.9 1591.8,1041.2 1594.8,1041.5 1597.8,1042.0 1600.7,1042.5 1603.7,1043.0 1606.7,1043.3 1609.7,1043.5 1612.6,1043.7 1615.6,1044.0 1618.5,1044.6 1621.4,1045.1 1624.4,1045.4 1627.3,1045.5 1630.4,1045.6 1633.4,1045.6 1636.4,1045.6 1639.4,1045.7 1642.3,1045.9 1645.2,1046.1 1648.1,1046.2 1651.0,1046.2 1653.9,1046.1 1656.9,1046.1 1659.8,1046.0 1662.7,1045.8 1665.6,1045.6 1668.6,1045.4 1671.6,1045.4 1674.6,1045.4 1677.6,1045.4 1680.5,1045.3 1683.3,1045.2 1686.0,1045.1 1688.8,1044.8 1691.6,1044.4 1694.5,1043.7 1697.5,1043.1 1700.4,1042.5 1703.3,1041.8 1706.2,1041.1 1709.2,1040.4 1712.1,1039.8 1715.1,1039.4 1718.0,1039.1 1721.0,1038.8 1724.0,1038.5 1726.9,1038.1 1729.9,1037.9 1732.8,1037.9 1735.9,1037.9 1738.9,1037.9 1741.9,1038.0 1744.9,1038.0 1747.9,1038.0 1750.9,1038.0 1753.9,1038.1 1756.9,1038.1 1759.9,1038.1 1762.8,1038.1 1765.8,1037.8 1768.7,1037.2 1771.6,1036.7 1774.6,1036.2 1777.6,1035.8 1780.5,1035.4 1783.5,1035.0 1786.4,1034.8 1789.3,1034.9 1792.3,1035.0 1795.3,1035.2 1798.3,1035.5 1801.2,1036.0 1804.1,1036.8 1806.8,1037.8 1809.6,1039.0 1812.3,1040.0 1815.2,1040.8 1818.0,1041.6 1820.7,1042.6 1823.4,1043.7 1826.2,1044.8 1828.9,1046.0 1831.6,1047.3 1834.2,1048.9 1836.7,1050.5" fill="none" stroke="#1A6FDF" stroke-width="2.7" stroke-linejoin="round" stroke-linecap="butt"/>
<polyline points="528.2,1232.2 531.2,1231.9 534.2,1231.6 537.1,1231.3 540.1,1231.0 543.1,1230.7 546.1,1230.4 549.1,1230.1 552.1,1229.8 555.1,1229.5 558.0,1229.2 561.0,1228.9 564.0,1228.5 567.0,1228.2 570.0,1227.8 573.0,1227.4 575.9,1226.9 578.9,1226.3 581.8,1225.7 584.7,1224.9 587.5,1223.9 590.2,1222.7 592.8,1221.4 595.3,1219.8 597.6,1218.0 599.8,1216.0 601.9,1213.9 603.8,1211.6 605.6,1209.2 607.3,1206.7 608.8,1204.1 610.3,1201.5 611.7,1198.8 613.0,1196.1 614.2,1193.4 615.3,1190.6 616.3,1187.8 617.3,1185.0 618.3,1182.1 619.1,1179.2 619.9,1176.4 620.7,1173.5 621.5,1170.6 622.2,1167.6 622.9,1164.7 623.5,1161.8 624.2,1158.9 624.8,1155.9 625.4,1153.0 626.0,1150.0 626.6,1147.1 627.2,1144.2 627.8,1141.2 628.4,1138.3 628.9,1135.3 629.5,1132.4 630.0,1129.4 630.6,1126.5 631.1,1123.5 631.7,1120.6 632.2,1117.6 632.8,1114.7 633.3,1111.7 633.8,1108.8 634.3,1105.8 634.9,1102.9 635.4,1099.9 635.9,1097.0 636.4,1094.0 636.9,1091.1 637.4,1088.1 638.0,1085.1 638.5,1082.2 639.0,1079.2 639.5,1076.3 640.0,1073.3 640.5,1070.4 641.0,1067.4 641.5,1064.4 642.0,1061.5 642.5,1058.5 643.0,1055.6 643.5,1052.6 644.0,1049.7 644.6,1046.7 645.1,1043.7 645.6,1040.8 646.1,1037.8 646.6,1034.9 647.1,1031.9 647.6,1029.0 648.1,1026.0 648.7,1023.1 649.2,1020.1 649.7,1017.1 650.2,1014.2 650.8,1011.2 651.3,1008.3 651.8,1005.3 652.3,1002.4 652.9,999.4 653.4,996.5 653.9,993.5 654.5,990.6 655.0,987.6 655.6,984.7 656.1,981.7 656.6,978.8 657.2,975.8 657.7,972.9 658.3,969.9 658.8,967.0 659.4,964.0 660.0,961.1 660.5,958.1 661.1,955.2 661.6,952.2 662.2,949.3 662.7,946.3 663.3,943.4 663.9,940.4 664.4,937.5 665.0,934.5 665.6,931.6 666.1,928.7 666.7,925.7 667.3,922.8 667.9,919.8 668.4,916.9 669.0,913.9 669.6,911.0 670.2,908.0 670.7,905.1 671.3,902.2 671.9,899.2 672.5,896.3 673.1,893.3 673.7,890.4 674.2,887.4 674.8,884.5 675.4,881.6 676.0,878.6 676.6,875.7 677.2,872.7 677.8,869.8 678.4,866.9 679.0,863.9 679.5,861.0 680.1,858.0 680.7,855.1 681.3,852.1 681.9,849.2 682.5,846.3 683.1,843.3 683.7,840.4 684.3,837.4 684.9,834.5 685.5,831.6 686.1,828.6 686.8,825.7 687.4,822.8 688.0,819.8 688.6,816.9 689.2,814.0 689.8,811.0 690.4,808.1 691.1,805.1 691.7,802.2 692.3,799.3 692.9,796.3 693.6,793.4 694.2,790.5 694.9,787.5 695.5,784.6 696.2,781.7 696.8,778.8 697.5,775.8 698.1,772.9 698.8,770.0 699.5,767.1 700.1,764.1 700.8,761.2 701.5,758.3 702.2,755.4 702.9,752.5 703.6,749.5 704.3,746.6 705.0,743.7 705.7,740.8 706.5,737.9 707.2,735.0 708.0,732.1 708.7,729.2 709.5,726.3 710.3,723.4 711.1,720.5 711.9,717.6 712.7,714.7 713.6,711.8 714.4,708.9 715.2,706.0 716.0,703.1 716.9,700.2 717.8,697.3 718.7,694.4 719.6,691.6 720.5,688.9 721.3,686.3 722.2,683.8 723.1,681.5 723.9,679.3 724.8,677.2 725.6,674.9 726.5,672.5 727.4,670.0 728.3,667.3 729.3,664.5 730.2,661.6 731.1,658.7 732.1,655.8 733.1,653.0 734.0,650.1 735.1,647.3 736.1,644.5 737.2,641.7 738.4,638.9 739.7,636.2 741.0,633.5 742.3,630.8 743.8,628.2 745.4,625.7 747.1,623.2 748.9,620.8 750.8,618.6 752.8,616.4 755.0,614.3 757.2,612.3 759.6,610.5 762.0,608.7 764.6,607.2 767.3,605.8 770.0,604.7 772.8,603.8 775.6,603.3 778.4,603.1 781.2,603.4 783.9,604.1 786.5,605.2 789.0,606.6 791.5,608.2 793.8,610.1 796.1,612.0 798.3,614.1 800.5,616.1 802.7,618.2 804.9,620.3 807.0,622.4 809.1,624.6 811.1,626.8 813.0,629.1 814.9,631.4 816.7,633.8 818.4,636.3 820.1,638.8 821.7,641.3 823.3,643.9 824.9,646.4 826.4,649.0 827.9,651.6 829.4,654.2 830.8,656.9 832.1,659.7 833.4,662.4 834.7,665.1 835.9,667.7 837.1,670.2 838.4,672.4 839.7,674.4 841.0,676.2 842.3,678.0 843.6,679.7 845.0,681.7 846.3,683.9 847.8,686.2 849.2,688.7 850.6,691.4 852.0,694.1 853.3,696.8 854.6,699.5 855.9,702.2 857.2,705.0 858.4,707.7 859.7,710.5 860.9,713.2 862.2,715.9 863.4,718.6 864.7,721.4 866.0,724.1 867.3,726.7 868.7,729.4 870.1,732.1 871.5,734.7 873.0,737.3 874.5,739.9 876.0,742.5 877.6,745.1 879.2,747.6 880.7,750.2 882.3,752.7 883.8,755.3 885.3,757.9 886.8,760.5 888.3,763.1 889.7,765.8 891.2,768.4 892.8,770.9 894.3,773.5 896.0,776.0 897.7,778.5 899.3,780.9 901.0,783.4 902.7,785.9 904.4,788.4 906.0,790.9 907.5,793.5 909.1,796.1 910.6,798.6 912.2,801.2 913.7,803.8 915.3,806.3 917.0,808.8 918.6,811.3 920.3,813.8 922.1,816.2 923.9,818.6 925.7,821.0 927.6,823.3 929.4,825.7 931.3,828.0 933.3,830.3 935.2,832.6 937.1,834.9 939.1,837.2 941.0,839.5 943.0,841.7 944.9,844.0 946.9,846.3 948.9,848.5 950.9,850.7 953.0,852.9 955.1,855.0 957.2,857.1 959.4,859.3 961.4,861.4 963.5,863.6 965.4,865.9 967.4,868.2 969.3,870.5 971.2,872.8 973.2,875.0 975.2,877.2 977.3,879.4 979.4,881.5 981.6,883.6 983.7,885.7 985.8,887.9 987.9,890.0 990.0,892.1 992.2,894.2 994.3,896.4 996.4,898.5 998.6,900.5 1000.8,902.5 1003.2,904.4 1005.6,906.2 1008.0,908.0 1010.4,909.8 1012.8,911.6 1015.2,913.4 1017.6,915.2 1020.0,917.0 1022.4,918.8 1024.8,920.5 1027.4,922.0 1030.0,923.5 1032.7,924.8 1035.4,926.1 1038.1,927.4 1040.8,928.7 1043.6,929.9 1046.4,931.0 1049.1,932.2 1051.8,933.5 1054.3,935.0 1056.7,936.8 1058.9,938.8 1061.2,940.8 1063.5,942.7 1065.9,944.3 1068.6,945.6 1071.4,946.7 1074.2,947.8 1077.1,948.6 1080.0,949.3 1082.9,949.7 1085.9,950.0 1088.9,950.4 1091.9,950.8 1094.8,951.3 1097.8,951.9 1100.7,952.4 1103.7,952.9 1106.7,953.4 1109.6,953.7 1112.6,953.9 1115.6,954.3 1118.5,954.9 1121.4,955.7 1124.2,956.7 1127.1,957.6 1129.9,958.6 1132.8,959.3 1135.7,959.8 1138.7,960.0 1141.7,960.0 1144.7,960.0 1147.7,959.9 1150.7,959.8 1153.7,959.5 1156.6,959.0 1159.6,958.5 1162.5,957.9 1165.5,957.5 1168.5,957.2 1171.5,956.9 1174.5,956.7 1177.5,956.4 1180.4,956.1 1183.4,955.8 1186.4,955.5 1189.4,955.1 1192.4,954.8 1195.3,954.4 1198.3,954.0 1201.3,953.7 1204.3,953.5 1207.3,953.3 1210.3,953.3 1213.3,953.2 1216.3,953.3 1219.2,953.5 1222.2,953.9 1225.1,954.5 1228.1,955.2 1231.0,955.8 1233.9,956.5 1236.9,957.1 1239.8,957.7 1242.7,958.4 1245.7,959.0 1248.6,959.7 1251.5,960.4 1254.4,961.1 1257.3,961.8 1260.2,962.5 1263.2,963.2 1266.1,963.7 1269.1,964.1 1272.1,964.5 1275.0,965.0 1277.9,965.6 1280.8,966.5 1283.6,967.5 1286.4,968.6 1289.2,969.8 1292.0,970.8 1294.8,971.9 1297.6,973.0 1300.4,974.0 1303.2,975.0 1306.0,976.1 1308.9,977.0 1311.7,977.9 1314.6,978.6 1317.6,979.2 1320.5,979.7 1323.5,980.2 1326.4,980.7 1329.4,981.2 1332.4,981.7 1335.3,982.3 1338.3,982.9 1341.2,983.4 1344.2,983.7 1347.2,983.8 1350.2,983.8 1353.2,983.9 1356.1,984.1 1359.1,984.5 1362.0,985.2 1364.9,986.1 1367.7,987.0 1370.6,988.0 1373.4,989.1 1376.1,990.3 1378.8,991.6 1381.4,993.0 1384.1,994.3 1386.9,995.4 1389.7,996.4 1392.6,997.1 1395.5,997.8 1398.5,998.2 1401.5,998.6 1404.4,998.9 1407.4,999.4 1410.3,1000.0 1413.3,1000.7 1416.2,1001.4 1419.1,1002.2 1422.0,1003.0 1424.9,1003.8 1427.7,1004.7 1430.6,1005.5 1433.5,1006.3 1436.4,1006.9 1439.4,1007.4 1442.3,1007.9 1445.3,1008.3 1448.3,1008.7 1451.2,1009.2 1454.2,1009.8 1457.0,1010.6 1459.9,1011.5 1462.8,1012.2 1465.7,1012.8 1468.7,1013.1 1471.7,1013.4 1474.6,1013.8 1477.6,1014.2 1480.6,1014.7 1483.5,1015.2 1486.5,1015.7 1489.5,1016.2 1492.4,1016.9 1495.3,1017.7 1498.1,1018.5 1501.0,1019.2 1504.0,1019.7 1506.9,1019.9 1509.9,1019.9 1512.9,1019.8 1515.9,1019.5 1518.9,1019.3 1521.9,1019.3 1524.9,1019.3 1527.9,1019.4 1530.9,1019.5 1533.9,1019.7 1536.9,1020.0 1539.8,1020.4 1542.8,1020.8 1545.8,1021.3 1548.7,1021.9 1551.6,1022.5 1554.5,1023.3 1557.4,1024.1 1560.3,1025.0 1563.2,1025.8 1566.1,1026.4 1569.1,1027.0 1572.0,1027.5 1575.0,1027.9 1577.9,1028.3 1580.9,1028.5 1583.9,1028.6 1586.9,1028.6 1589.9,1028.4 1592.9,1028.2 1595.8,1027.7 1598.8,1027.1 1601.7,1026.5 1604.7,1026.0 1607.7,1025.7 1610.6,1025.4 1613.6,1025.2 1616.6,1025.0 1619.6,1024.6 1622.5,1024.0 1625.4,1023.3 1628.3,1022.9 1631.3,1022.7 1634.3,1022.8 1637.3,1023.0 1640.3,1023.3 1643.2,1023.8 1646.2,1024.3 1649.1,1024.9 1652.0,1025.6 1655.0,1026.3 1657.9,1027.0 1660.8,1027.6 1663.8,1028.0 1666.7,1028.4 1669.7,1028.9 1672.6,1029.6 1675.5,1030.3 1678.5,1030.9 1681.4,1031.6 1684.3,1032.2 1687.3,1032.7 1690.3,1033.1 1693.2,1033.3 1696.2,1033.3 1699.2,1033.1 1702.2,1032.8 1705.1,1032.1 1707.9,1031.3 1710.7,1030.5 1713.5,1029.9 1716.4,1029.7 1719.4,1029.7 1722.3,1029.8 1725.3,1030.0 1728.3,1030.1 1731.3,1030.4 1734.3,1030.8 1737.2,1031.4 1740.1,1032.2 1742.9,1033.1 1745.8,1033.9 1748.7,1034.8 1751.6,1035.6 1754.5,1036.3 1757.4,1036.8 1760.4,1037.2 1763.4,1037.6 1766.4,1037.9 1769.4,1038.2 1772.3,1038.5 1775.3,1038.8 1778.3,1039.1 1781.3,1039.1 1784.3,1039.0 1787.3,1038.7 1790.2,1038.2 1793.2,1037.7 1796.1,1037.2 1799.1,1036.6 1802.0,1036.0 1804.9,1035.2 1807.7,1034.3 1810.6,1033.5 1813.6,1032.8 1816.4,1032.0 1819.1,1030.8 1821.6,1029.3 1824.0,1027.5 1826.3,1025.6 1828.8,1023.9 1831.4,1022.4 1834.1,1021.1 1835.9,1020.3" fill="none" stroke="#37AD6B" stroke-width="2.7" stroke-linejoin="round" stroke-linecap="butt"/>
<line x1="787.5" y1="116" x2="787.5" y2="777" stroke="#FF7D00" stroke-width="3" stroke-dasharray="2.85 0.95" shape-rendering="crispEdges"/>
<line x1="1270" y1="788" x2="1270" y2="1137" stroke="#FF7D00" stroke-width="2" stroke-dasharray="2.85 0.95" shape-rendering="crispEdges"/>
<g fill="#000" shape-rendering="crispEdges">
<rect x="304" y="35" width="1644" height="6"/>
<rect x="304" y="1363" width="1644" height="6"/>
<rect x="315" y="35" width="5" height="1357"/>
<rect x="1942" y="35" width="6" height="1344"/>
<rect x="423" y="1366" width="6" height="13"/>
<rect x="532" y="1366" width="6" height="26"/>
<rect x="640" y="1366" width="6" height="13"/>
<rect x="749" y="1366" width="6" height="26"/>
<rect x="857" y="1366" width="6" height="13"/>
<rect x="966" y="1366" width="6" height="26"/>
<rect x="1074" y="1366" width="6" height="13"/>
<rect x="1183" y="1366" width="6" height="26"/>
<rect x="1291" y="1366" width="6" height="13"/>
<rect x="1400" y="1366" width="6" height="26"/>
<rect x="1508" y="1366" width="6" height="13"/>
<rect x="1617" y="1366" width="6" height="26"/>
<rect x="1725" y="1366" width="6" height="13"/>
<rect x="1834" y="1366" width="6" height="26"/>
<rect x="478" y="38" width="6" height="13"/>
<rect x="640" y="38" width="6" height="26"/>
<rect x="803" y="38" width="6" height="13"/>
<rect x="966" y="38" width="6" height="26"/>
<rect x="1129" y="38" width="6" height="13"/>
<rect x="1291" y="38" width="6" height="26"/>
<rect x="1454" y="38" width="6" height="13"/>
<rect x="1617" y="38" width="6" height="26"/>
<rect x="1779" y="38" width="6" height="13"/>
<rect x="291" y="1230" width="27" height="6"/>
<rect x="1933" y="1230" width="12" height="6"/>
<rect x="304" y="1097" width="14" height="6"/>
<rect x="1920" y="1097" width="25" height="6"/>
<rect x="291" y="965" width="27" height="6"/>
<rect x="1933" y="965" width="12" height="6"/>
<rect x="304" y="832" width="14" height="6"/>
<rect x="1920" y="832" width="25" height="6"/>
<rect x="291" y="699" width="27" height="6"/>
<rect x="1933" y="699" width="12" height="6"/>
<rect x="304" y="566" width="14" height="6"/>
<rect x="1920" y="566" width="25" height="6"/>
<rect x="291" y="433" width="27" height="6"/>
<rect x="1933" y="433" width="12" height="6"/>
<rect x="304" y="301" width="14" height="6"/>
<rect x="1920" y="301" width="25" height="6"/>
<rect x="291" y="168" width="27" height="6"/>
<rect x="1933" y="168" width="12" height="6"/>
</g>
<g font-family="'Liberation Sans', Arial, Helvetica, sans-serif" style="font-kerning:none">
<text transform="translate(318,1454.8) scale(1,1.05)" font-size="56" text-anchor="middle" fill="#000">0</text>
<text transform="translate(535,1454.8) scale(1,1.05)" font-size="56" text-anchor="middle" fill="#000">100</text>
<text transform="translate(752,1454.8) scale(1,1.05)" font-size="56" text-anchor="middle" fill="#000">200</text>
<text transform="translate(969,1454.8) scale(1,1.05)" font-size="56" text-anchor="middle" fill="#000">300</text>
<text transform="translate(1186,1454.8) scale(1,1.05)" font-size="56" text-anchor="middle" fill="#000">400</text>
<text transform="translate(1403,1454.8) scale(1,1.05)" font-size="56" text-anchor="middle" fill="#000">500</text>
<text transform="translate(1620,1454.8) scale(1,1.05)" font-size="56" text-anchor="middle" fill="#000">600</text>
<text transform="translate(1837,1454.8) scale(1,1.05)" font-size="56" text-anchor="middle" fill="#000">700</text>
<text transform="translate(275.3,1251.0) scale(1,1.065)" font-size="56.5" text-anchor="end" fill="#000">0.00</text>
<text transform="translate(275.3,986.0) scale(1,1.065)" font-size="56.5" text-anchor="end" fill="#000">0.02</text>
<text transform="translate(275.3,720.0) scale(1,1.065)" font-size="56.5" text-anchor="end" fill="#000">0.04</text>
<text transform="translate(275.3,454.0) scale(1,1.065)" font-size="56.5" text-anchor="end" fill="#000">0.06</text>
<text transform="translate(275.3,189.0) scale(1,1.065)" font-size="56.5" text-anchor="end" fill="#000">0.08</text>
<text transform="translate(868,1561.5) scale(1,1.036)" font-size="68.1" text-anchor="start" fill="#000">Temperature (°C)</text>
<text transform="translate(89.5,852.5) rotate(-90) scale(1,1.03)" font-size="68.9" text-anchor="start" fill="#000">Signal (Volt)</text>
<text transform="translate(694.1,122.2) scale(1,1.027)" font-size="49.1" text-anchor="start" fill="#000">T=216 °C</text>
<text transform="translate(1162.7,757) scale(1,1.027)" font-size="49.3" text-anchor="start" fill="#000">T=439 °C</text>
<g fill="#000" shape-rendering="crispEdges">
<rect x="1398" y="70" width="514" height="3"/>
<rect x="1398" y="324" width="514" height="3"/>
<rect x="1398" y="70" width="2" height="257"/>
<rect x="1909" y="70" width="3" height="257"/>
</g>
<rect x="1405" y="104.0" width="113" height="3" fill="#4D4D4D" shape-rendering="crispEdges"/>
<text transform="translate(1530.4,124) scale(1,1.022)" font-size="49.4" text-anchor="start" fill="#000000">HZSM-5</text>
<rect x="1405" y="166.0" width="113" height="3" fill="#F14040" shape-rendering="crispEdges"/>
<text transform="translate(1530.4,186) scale(1,1.022)" font-size="49.4" text-anchor="start" fill="#FF0000">5% Ce/HZSM-5</text>
<rect x="1405" y="228.0" width="113" height="3" fill="#1A6FDF" shape-rendering="crispEdges"/>
<text transform="translate(1530.4,247) scale(1,1.022)" font-size="49.4" text-anchor="start" fill="#0000FF">10% Ce/HZSM-5</text>
<rect x="1405" y="289.0" width="113" height="3" fill="#37AD6B" shape-rendering="crispEdges"/>
<text transform="translate(1530.4,309) scale(1,1.022)" font-size="49.4" text-anchor="start" fill="#47B347">15% Ce/HZSM-5</text>
</g>
</svg>
</body></html>
